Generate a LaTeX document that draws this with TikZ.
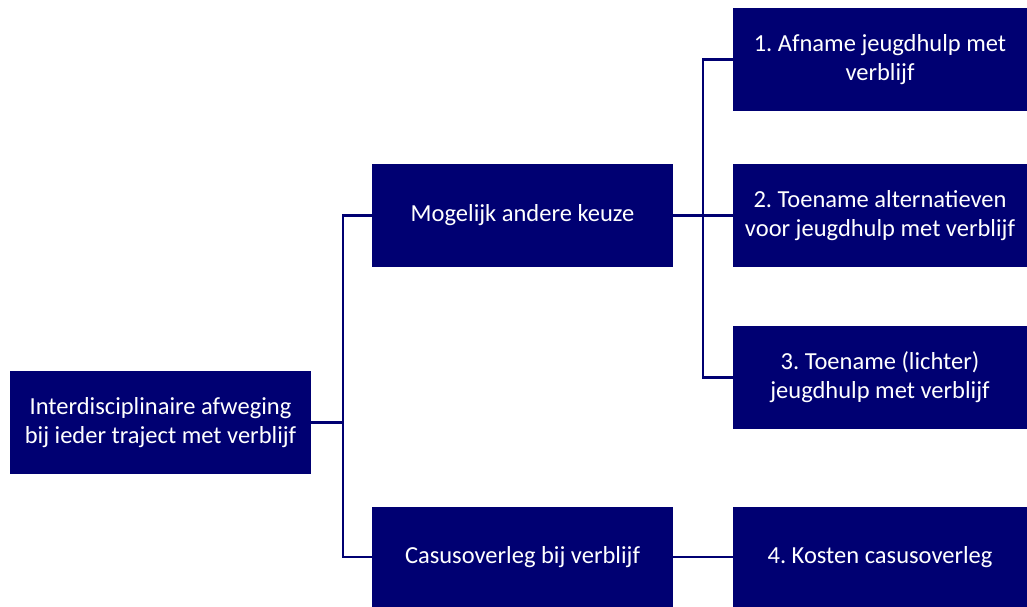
\documentclass[tikz,border=0pt]{standalone}
\usepackage{fontspec}
\setmainfont{Carlito}
\frenchspacing
\definecolor{navy}{RGB}{0,0,114}
\begin{document}
\begin{tikzpicture}[x=1pt,y=-1pt,
  box/.style={draw=none,fill=navy,text=white,align=center,font=\fontsize{24.5}{29}\selectfont,inner sep=0pt},
  wbox/.style={box,minimum width=301pt,minimum height=103pt},
  rbox/.style={box,minimum width=294pt,minimum height=103pt},
  conn/.style={draw=navy,line width=2.2pt}]
\useasboundingbox (0,0) rectangle (1027,607);
\node[wbox] (root) at (160.5,422.5) {Interdisciplinaire afweging\\bij ieder traject met verblijf};
\node[wbox] (mog) at (522.5,215.5) {Mogelijk andere keuze};
\node[wbox,minimum height=100pt] (cas) at (522.5,557) {Casusoverleg bij verblijf};
\node[rbox] (b1) at (880,59.5) {1. Afname jeugdhulp met\\verblijf};
\node[rbox] (b2) at (880,215.5) {2. Toename alternatieven\\voor jeugdhulp met verblijf};
\node[rbox] (b3) at (880,377.5) {3. Toename (lichter)\\jeugdhulp met verblijf};
\node[rbox,minimum height=100pt] (b4) at (880,557) {4. Kosten casusoverleg};
\coordinate (j1) at (343,0);
\coordinate (j2) at (703,0);
\draw[conn] (root.east) -- (root.east -| j1);
\draw[conn] (mog.west) -- (mog.west -| j1) |- (cas.west);
\draw[conn] (mog.east) -- (b2.west);
\draw[conn] (b1.west) -- (b1.west -| j2) |- (b3.west);
\draw[conn] (cas.east) -- (b4.west);
\end{tikzpicture}
\end{document}
